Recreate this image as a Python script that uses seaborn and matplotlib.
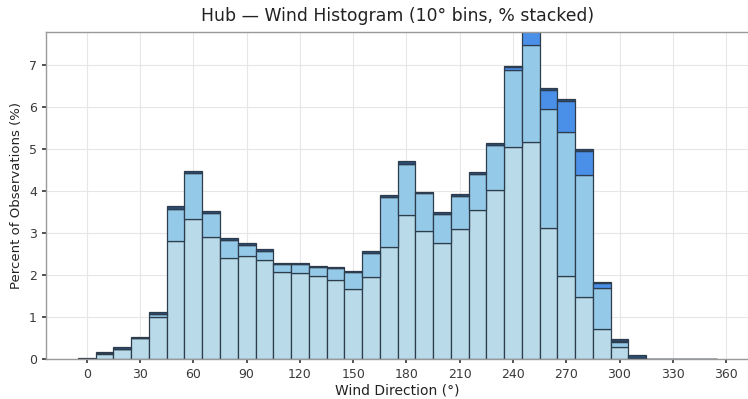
import numpy as np
import pandas as pd
import matplotlib
matplotlib.use("Agg")
import matplotlib.pyplot as plt
import seaborn as sns

# 10-degree direction bins (bin centres)
directions = list(range(0, 360, 10))

# Percent of observations per direction bin, split by wind-speed class
pct_low = [0.01, 0.12, 0.23, 0.49, 1.00, 2.82, 3.32, 2.90, 2.40, 2.45,
           2.36, 2.07, 2.05, 1.98, 1.88, 1.67, 1.95, 2.67, 3.43, 3.05,
           2.76, 3.10, 3.55, 4.02, 5.05, 5.16, 3.12, 1.98, 1.48, 0.71,
           0.29, 0.03, 0.00, 0.00, 0.00, 0.00]
pct_mid = [0.00, 0.02, 0.02, 0.01, 0.08, 0.76, 1.10, 0.58, 0.44, 0.27,
           0.21, 0.18, 0.20, 0.21, 0.29, 0.40, 0.58, 1.19, 1.22, 0.89,
           0.70, 0.78, 0.86, 1.08, 1.82, 2.32, 2.83, 3.42, 2.90, 0.97,
           0.11, 0.00, 0.00, 0.00, 0.00, 0.00]
pct_high = [0.00, 0.00, 0.00, 0.00, 0.00, 0.00, 0.00, 0.00, 0.00, 0.00,
            0.00, 0.00, 0.00, 0.00, 0.00, 0.00, 0.00, 0.00, 0.00, 0.00,
            0.00, 0.00, 0.00, 0.00, 0.08, 0.35, 0.45, 0.74, 0.56, 0.12,
            0.04, 0.00, 0.00, 0.00, 0.00, 0.00]
pct_top = [0.02, 0.02, 0.03, 0.03, 0.04, 0.06, 0.06, 0.05, 0.04, 0.04,
           0.04, 0.03, 0.03, 0.03, 0.03, 0.03, 0.04, 0.04, 0.05, 0.04,
           0.04, 0.04, 0.04, 0.05, 0.03, 0.05, 0.05, 0.05, 0.05, 0.03,
           0.04, 0.06, 0.01, 0.01, 0.01, 0.01]

speed_classes = ["low", "mid", "high", "top"]
class_colors = {"low": "#b9dae8", "mid": "#95c9e8", "high": "#4a90e8", "top": "#2a4d74"}

x_ticks = list(range(0, 361, 30))
y_ticks = list(range(0, 8))

frames = []
for name, vals in zip(speed_classes, [pct_low, pct_mid, pct_high, pct_top]):
    frames.append(pd.DataFrame({"direction": directions, "pct": vals, "speed": name}))
df = pd.concat(frames, ignore_index=True)

sns.set_theme(style="whitegrid")
plt.rcParams["font.family"] = ["DejaVu Sans"]

fig = plt.figure(figsize=(7.48, 3.99), dpi=100)
ax = fig.add_axes([0.0615, 0.10, 0.94, 0.82])

# seaborn stacks the first hue level on top, so list classes top-down
sns.histplot(
    data=df, x="direction", weights="pct", hue="speed",
    hue_order=speed_classes[::-1], palette=class_colors,
    multiple="stack", binwidth=10, binrange=(-5, 355),
    edgecolor="#2e3d4e", linewidth=0.9, alpha=1.0,
    legend=False, ax=ax,
)

ax.set_xlim(-23, 373)
ax.set_ylim(0, 7.78)
ax.set_xticks(x_ticks)
ax.set_yticks(y_ticks)
ax.tick_params(axis="both", labelsize=9, colors="#3a3a3a", length=3, left=True, bottom=True)
ax.grid(True, color="#e6e6e6", linewidth=0.8)
ax.set_axisbelow(True)
for s in ax.spines.values():
    s.set_color("#9a9a9a")
    s.set_linewidth(1.0)

ax.set_title("Hub — Wind Histogram (10° bins, % stacked)", fontsize=12.4, color="#222222", pad=8)
ax.set_xlabel("Wind Direction (°)", fontsize=10, color="#222222", labelpad=2)
ax.set_ylabel("Percent of Observations (%)", fontsize=9.5, color="#222222")

fig.savefig("out.png", dpi=100, facecolor="white")
